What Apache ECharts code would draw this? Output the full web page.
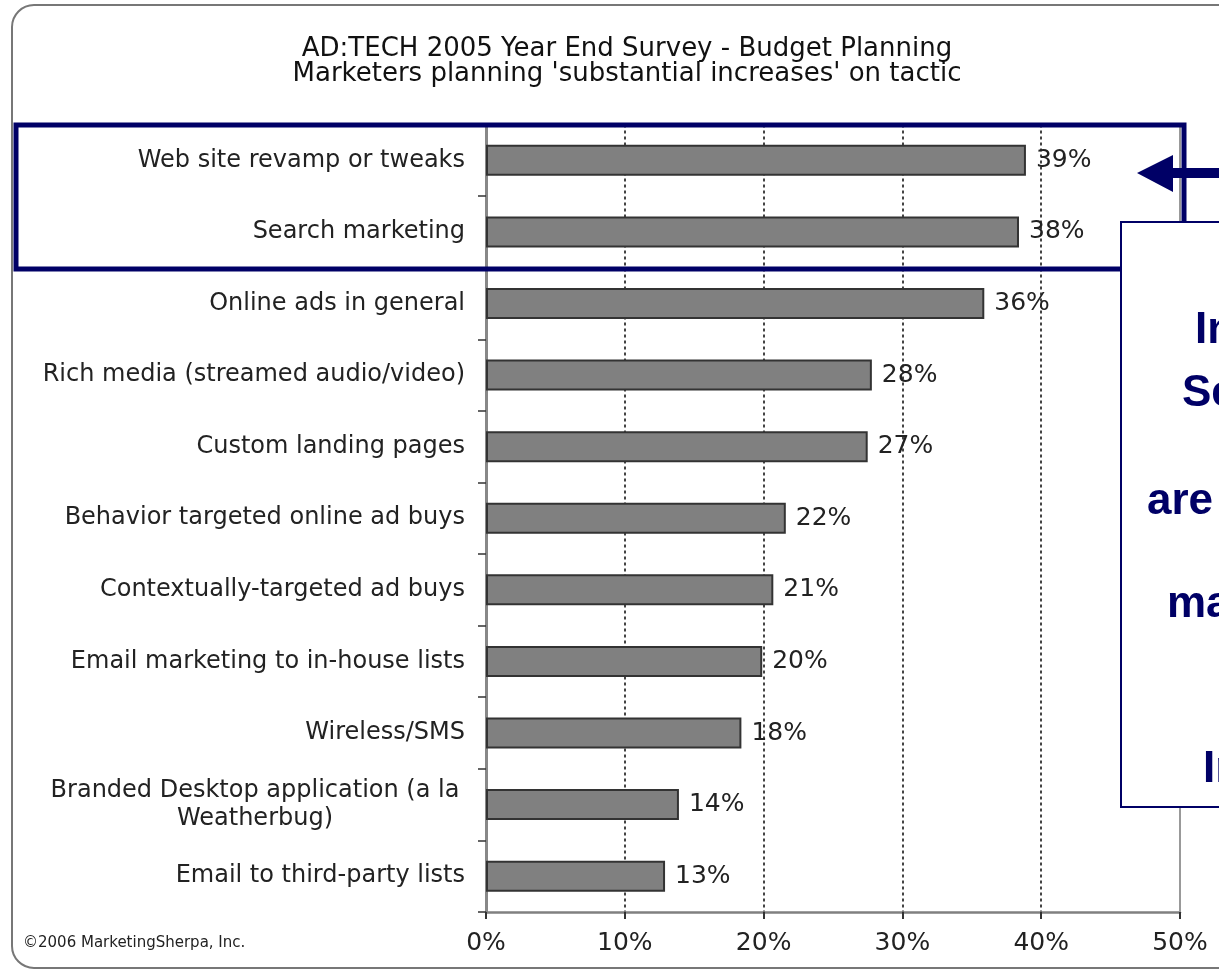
<!DOCTYPE html>
<html>
<head>
<meta charset="utf-8">
<script src="https://cdn.jsdelivr.net/npm/echarts@6/dist/echarts.min.js"></script>
<style>
  html, body { margin: 0; padding: 0; background: #fff; }
  #chart { width: 1219px; height: 974px; }
</style>
</head>
<body>
<div id="chart"></div>
<script>
const categories = [
  'Web site revamp or tweaks',
  'Search marketing',
  'Online ads in general',
  'Rich media (streamed audio/video)',
  'Custom landing pages',
  'Behavior targeted online ad buys',
  'Contextually-targeted ad buys',
  'Email marketing to in-house lists',
  'Wireless/SMS',
  'Branded Desktop application (a la\nWeatherbug)',
  'Email to third-party lists'
]
// bar lengths (percent)
const values = [38.9, 38.4, 35.9, 27.8, 27.5, 21.6, 20.7, 19.9, 18.4, 13.9, 12.9]
// printed labels next to the bars
const valueLabels = ['39%', '38%', '36%', '28%', '27%', '22%', '21%', '20%', '18%', '14%', '13%']
const xTicks = [0, 10, 20, 30, 40, 50]

const NAVY = '#000066'
const FONT = '"DejaVu Sans", sans-serif'
const BOX_FONT = 'bold 44px "Liberation Sans", Arial, sans-serif'

const chart = echarts.init(document.getElementById('chart'))

const option = {
  backgroundColor: '#fff',
  animation: false,
  title: {
    text: 'AD:TECH 2005 Year End Survey - Budget Planning\nMarketers planning \'substantial increases\' on tactic',
    left: 622,
    top: 32,
    textAlign: 'center',
    textStyle: {
      fontFamily: FONT,
      fontSize: 26,
      fontWeight: 'normal',
      lineHeight: 25,
      color: '#111'
    }
  },
  grid: { left: 486, right: 39, top: 124.5, bottom: 62, containLabel: false },
  xAxis: {
    type: 'value',
    min: xTicks[0],
    max: xTicks[xTicks.length - 1],
    interval: 10,
    axisLine: { show: true, lineStyle: { color: '#808080', width: 2.5 } },
    axisTick: { show: true, length: 7, lineStyle: { color: '#333', width: 2 } },
    axisLabel: {
      formatter: '{value}%',
      margin: 19,
      fontFamily: FONT,
      fontSize: 25,
      color: '#222'
    },
    splitLine: {
      show: true,
      showMinLine: false,
      showMaxLine: false,
      lineStyle: { color: '#444', width: 2, type: [3, 3] }
    }
  },
  yAxis: {
    type: 'category',
    inverse: true,
    data: categories,
    axisLine: { show: true, lineStyle: { color: '#888', width: 3 } },
    axisTick: { show: true, length: 8, lineStyle: { color: '#333', width: 1.5 } },
    axisLabel: {
      margin: 21,
      fontFamily: FONT,
      fontSize: 24,
      color: '#222',
      lineHeight: 28,
      formatter: (v) => {
        if (v.indexOf('\n') < 0) return v
        return v.split('\n').map(s => '{c|' + s + '}').join('\n')
      },
      rich: {
        c: { width: 420, align: 'center', fontFamily: FONT, fontSize: 24, color: '#222', lineHeight: 28 }
      }
    }
  },
  series: [{
    type: 'bar',
    data: values,
    barWidth: 31,
    itemStyle: { color: '#808080', borderColor: '#333', borderWidth: 2 },
    label: {
      show: true,
      position: 'right',
      distance: 10,
      fontFamily: FONT,
      fontSize: 25,
      color: '#222',
      formatter: (p) => valueLabels[p.dataIndex]
    },
    markLine: {
      silent: true,
      symbol: 'none',
      label: { show: false },
      lineStyle: { color: '#999', width: 2, type: 'solid' },
      data: [{ xAxis: 50 }]
    }
  }],
  graphic: [
    {
      type: 'rect',
      z: 1,
      shape: { x: 12, y: 5, width: 1240, height: 963, r: 22 },
      style: { fill: 'transparent', stroke: '#777', lineWidth: 2 }
    },
    {
      type: 'text',
      z: 10,
      style: {
        text: '\u00a92006 MarketingSherpa, Inc.',
        x: 23, y: 943,
        verticalAlign: 'middle',
        font: '15px ' + FONT,
        fill: '#222'
      }
    },
    {
      type: 'rect',
      z: 100,
      shape: { x: 16, y: 125, width: 1168, height: 144 },
      style: { fill: 'transparent', stroke: NAVY, lineWidth: 5 }
    },
    {
      type: 'rect',
      z: 101,
      shape: { x: 1121, y: 222, width: 140, height: 585 },
      style: { fill: '#fff', stroke: NAVY, lineWidth: 2 }
    },
    {
      type: 'polygon',
      z: 102,
      shape: {
        points: [[1137, 173], [1173, 155], [1173, 168], [1230, 168], [1230, 178], [1173, 178], [1173, 192]]
      },
      style: { fill: NAVY }
    },
    { type: 'text', z: 103, style: { text: 'In', x: 1195, y: 331, verticalAlign: 'middle', font: BOX_FONT, fill: NAVY } },
    { type: 'text', z: 103, style: { text: 'Se', x: 1182, y: 394, verticalAlign: 'middle', font: BOX_FONT, fill: NAVY } },
    { type: 'text', z: 103, style: { text: 'are', x: 1147, y: 502, verticalAlign: 'middle', font: BOX_FONT, fill: NAVY } },
    { type: 'text', z: 103, style: { text: 'ma', x: 1167, y: 605, verticalAlign: 'middle', font: BOX_FONT, fill: NAVY } },
    { type: 'text', z: 103, style: { text: 'In', x: 1203, y: 770, verticalAlign: 'middle', font: BOX_FONT, fill: NAVY } }
  ]
}

chart.setOption(option)
</script>
</body>
</html>
